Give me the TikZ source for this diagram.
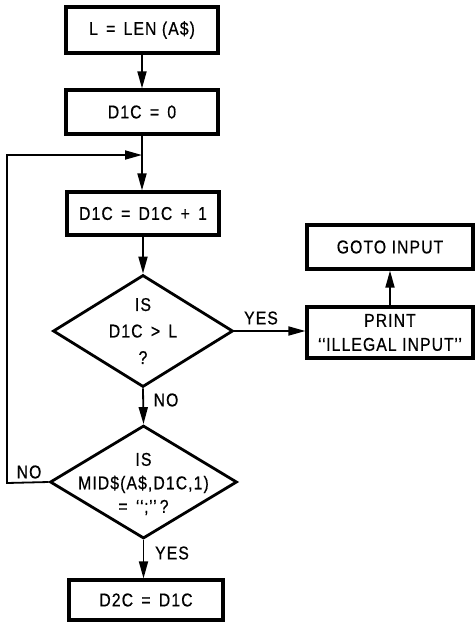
\documentclass[tikz,border=0pt]{standalone}
\usepackage{fontspec}
\setmainfont[FakeStretch=0.85,LetterSpace=6,FakeBold=0.6]{Liberation Sans}
\usetikzlibrary{shapes.geometric,arrows.meta}
\newcommand\opgap{\hspace{0.45em}}
\newcommand\myoq{\symbol{"2018}\kern0.6pt}
\newcommand\mycq{\kern0.6pt\symbol{"2019}}
\begin{document}
\begin{tikzpicture}[x=1pt,y=-1pt,
  every node/.style={font=\fontsize{18.5}{25}\selectfont},
  box/.style={draw,line width=3.2pt,inner sep=0pt,align=center},
  dia/.style={draw,diamond,line width=2.8pt,inner sep=0pt},
  txt/.style={align=center,inner sep=0pt},
  conn/.style={line width=1.8pt,-{Triangle[length=17pt,width=9pt]}},
  lbl/.style={inner sep=0pt}]
\useasboundingbox (0,0) rectangle (475,622);
\node[box,minimum width=152pt,minimum height=46pt] (b1) at (142,30) {L\opgap=\opgap LEN (A\$)};
\node[box,minimum width=152pt,minimum height=44pt] (b2) at (142,112) {D1C\opgap=\opgap 0};
\node[box,minimum width=152pt,minimum height=43pt] (b3) at (143,213.5) {D1C\opgap=\opgap D1C\opgap+\opgap 1};
\node[dia,minimum width=180pt,minimum height=112pt] (d1) at (143,331) {};
\node[txt,font=\fontsize{18.5}{26.5}\selectfont] (t1) at (143,331) {IS\\D1C\opgap>\opgap L\\?};
\node[dia,minimum width=187pt,minimum height=113pt] (d2) at (143.5,482) {};
\node[txt,font=\fontsize{18.5}{23.5}\selectfont] (t2) at (143.5,484) {IS\\MID\$(A\$,D1C,1)\\=\opgap\myoq\myoq;\mycq\mycq\,?};
\node[box,minimum width=166pt,minimum height=51pt,font=\fontsize{18.5}{24}\selectfont] (pr) at (390,332.5) {PRINT\\\myoq\myoq ILLEGAL INPUT\mycq\mycq};
\node[box,minimum width=166pt,minimum height=44pt] (go) at (390,247) {GOTO INPUT};
\node[box,minimum width=154pt,minimum height=40pt] (b4) at (146,600) {D2C\opgap=\opgap D1C};
\coordinate (j) at (142,155);
\coordinate (lt) at (7,155);
\coordinate (lb) at (7,483);
\draw[conn] (b1) -- (b2);
\draw[line width=1.8pt] (b2.south) -- (j);
\draw[conn] (j) -- (b3.north -| j);
\draw[conn] (b3.south -| d1.north) -- (d1.north);
\draw[conn] (d1.east) -- (pr.west |- d1.east);
\draw[conn] (pr.north) -- (go.south);
\draw[conn] (d1.south) -- (d2.north);
\draw[conn] (d2.south) -- (d2.south |- b4.north);
\draw[conn] (d2.west) -- (lb) -- (lt) -- (j);
\node[lbl] (yes1) at (261,318) {YES};
\node[lbl] (no1) at (166,400) {NO};
\node[lbl] (no2) at (29,472) {NO};
\node[lbl] (yes2) at (172,553) {YES};
\end{tikzpicture}
\end{document}
